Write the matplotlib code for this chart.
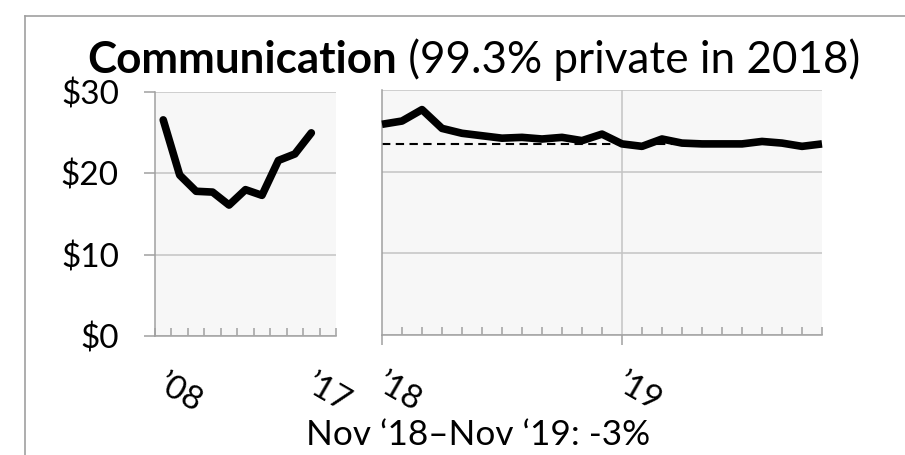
import numpy as np
import matplotlib
matplotlib.use('Agg')
import matplotlib.pyplot as plt
from matplotlib.lines import Line2D

plt.rcParams['font.family'] = ['Lato', 'DejaVu Sans']

# annual averages 2008-2017 ($)
yr_vals = [26.6, 19.8, 17.8, 17.7, 16.1, 18.0, 17.3, 21.6, 22.4, 25.0]
yr_labels = ['\u201908', '\u201917']
# monthly Jan 2018 - Nov 2019 ($)
mo_vals = [25.8, 26.2, 27.6, 25.3, 24.7, 24.4, 24.1, 24.2, 24.0, 24.2, 23.8, 24.6,
           23.4, 23.1, 24.0, 23.5, 23.4, 23.4, 23.4, 23.7, 23.5, 23.1, 23.4]
mo_labels = ['\u201918', '\u201919']
yticks = [0, 10, 20, 30]
ytick_labels = ['\\$0', '\\$10', '\\$20', '\\$30']
title_bold = 'Communication'
title_rest = ' (99.3% private in 2018)'
subtitle = 'Nov \u201818\u2013Nov \u201819: -3%'

W, H = 905, 455
BG = '#f7f7f7'
GRID = '#c4c4c4'
SPINE = '#a0a0a0'
TICKFS = 24

def frac(x0, y0, x1, y1):
    return [x0 / W, 1 - y1 / H, (x1 - x0) / W, (y1 - y0) / H]

fig = plt.figure(figsize=(W / 100, H / 100), dpi=100)

# outer frame (cut by image edge on right/bottom)
fig.add_artist(Line2D([25 / W, 25 / W], [0, 1 - 16 / H], transform=fig.transFigure, color=SPINE, lw=1.2))
fig.add_artist(Line2D([25 / W, 1], [1 - 16 / H, 1 - 16 / H], transform=fig.transFigure, color=SPINE, lw=1.2))

# ---- left panel, yearly
ax1 = fig.add_axes(frac(155, 92.3, 336, 335.7))
ax1.set_facecolor(BG)
ax1.set_xlim(-0.5, 10.5)
ax1.set_ylim(0, 30)
ax1.plot(np.arange(len(yr_vals)), yr_vals, color='k', lw=5.5, solid_joinstyle='round',
         solid_capstyle='round', zorder=3)
ax1.set_yticks(yticks)
ax1.set_yticklabels(ytick_labels)
ax1.yaxis.grid(True, color=GRID, lw=1.1)
ax1.set_axisbelow(True)
ax1.set_xticks(np.arange(-0.5, 11, 1))
ax1.set_xticklabels([])
ax1.tick_params(axis='x', direction='in', length=6, width=1.1, color=SPINE)
ax1.tick_params(axis='y', direction='out', length=8, width=1.1, color=SPINE, pad=18,
                labelsize=TICKFS, labelcolor='k')
for s in ['top', 'right']:
    ax1.spines[s].set_visible(False)
for s in ['left', 'bottom']:
    ax1.spines[s].set_color(SPINE)
    ax1.spines[s].set_linewidth(1.1)

for xi, lab in zip([0, len(yr_vals) - 1], yr_labels):
    ax1.annotate(lab, xy=(xi, 0), xycoords=('data', 'axes fraction'), xytext=(3, -24),
                 textcoords='offset points', rotation=-30, rotation_mode='anchor',
                 ha='left', va='top', fontsize=TICKFS)

# ---- right panel, monthly
ax2 = fig.add_axes(frac(382, 90, 822, 335))
ax2.set_facecolor(BG)
ax2.set_xlim(0, len(mo_vals) - 1)
ax2.set_ylim(0, 30)
ax2.axhline(mo_vals[-1], color='k', lw=1.5, ls=(0, (4, 2.6)), zorder=2)
ax2.plot(np.arange(len(mo_vals)), mo_vals, color='k', lw=5.5, solid_joinstyle='round',
         solid_capstyle='butt', zorder=3, clip_on=False)
ax2.set_yticks(yticks)
ax2.set_yticklabels([])
ax2.yaxis.grid(True, color=GRID, lw=1.1)
ax2.axvline(12, color=GRID, lw=1.1, zorder=1)
ax2.set_axisbelow(True)
ax2.set_xticks([0, 12])
ax2.set_xticklabels([])
ax2.set_xticks(np.arange(len(mo_vals)), minor=True)
ax2.tick_params(axis='x', which='major', direction='out', length=7.5, width=1.1, color=SPINE)
ax2.tick_params(axis='x', which='minor', direction='in', length=6, width=1.1, color=SPINE)
ax2.tick_params(axis='y', length=0)
for s in ['top', 'right']:
    ax2.spines[s].set_visible(False)
for s in ['left', 'bottom']:
    ax2.spines[s].set_color(SPINE)
    ax2.spines[s].set_linewidth(1.1)

for xi, lab in zip([0, 12], mo_labels):
    ax2.annotate(lab, xy=(xi, 0), xycoords=('data', 'axes fraction'), xytext=(3, -24),
                 textcoords='offset points', rotation=-30, rotation_mode='anchor',
                 ha='left', va='top', fontsize=TICKFS)

# ---- title (bold + regular), fitted to the reference width
r = fig.canvas.get_renderer()
t1 = fig.text(87 / W, 1 - 73 / H, title_bold, fontsize=30, fontweight='bold', ha='left', va='baseline')
t2 = fig.text(0, 1 - 73 / H, title_rest, fontsize=30, ha='left', va='baseline')
w1 = t1.get_window_extent(r).width
w2 = t2.get_window_extent(r).width
k = 773 / (w1 + w2)
t1.set_fontsize(30 * k)
t2.set_fontsize(30 * k)
b1 = t1.get_window_extent(r)
t2.set_x(b1.x1 / W)

st = fig.text(478 / W, 1 - 445 / H, subtitle, fontsize=22, ha='center', va='baseline')
sw = st.get_window_extent(r).width
st.set_fontsize(22 * 343 / sw)

fig.savefig('out.png', dpi=100, facecolor='white')
